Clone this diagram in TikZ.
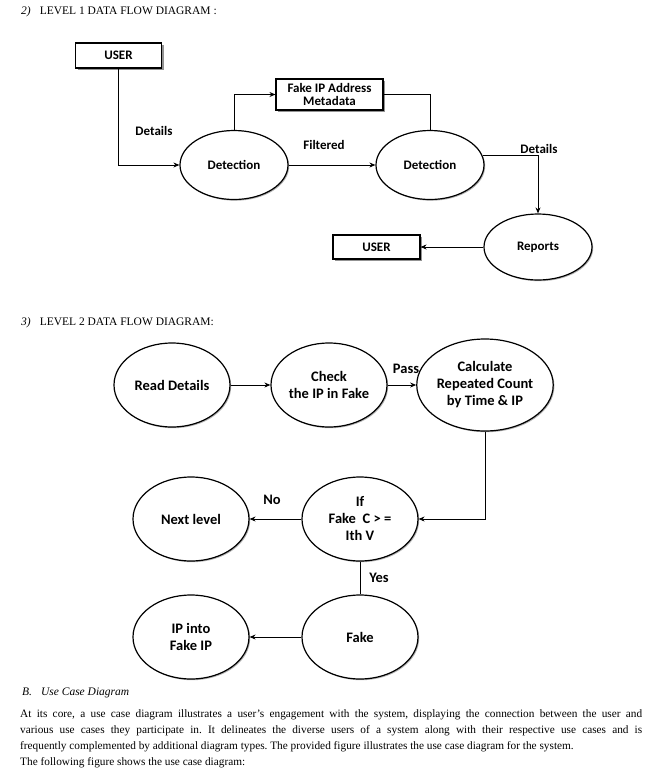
\documentclass[tikz,border=0pt]{standalone}
\usepackage{fontspec}
\setmainfont{Liberation Serif}
\newfontfamily\dfdfont{Carlito}
\usetikzlibrary{shapes,arrows,arrows.meta,positioning,shadows}

\begin{document}
\frenchspacing
\begin{tikzpicture}[x=1pt, y=-1pt, >={Stealth[length=6pt,width=5pt]}]
    \tikzstyle{store} = [rectangle, draw=black, line width=1.1pt, fill=white, inner sep=0pt, align=center, drop shadow={shadow xshift=2pt, shadow yshift=-2pt, fill=black!60, opacity=0.7}, font=\dfdfont\bfseries\fontsize{13}{13.5}\selectfont]
    \tikzstyle{procA} = [ellipse, draw=black, line width=1.2pt, fill=white, inner sep=0pt, align=center, minimum width=108pt, minimum height=69pt, drop shadow={shadow xshift=1.2pt, shadow yshift=-1.2pt, fill=black!50, opacity=0.6}, font=\dfdfont\bfseries\fontsize{13}{14}\selectfont]
    \tikzstyle{procB} = [procA, minimum width=116pt, minimum height=84pt, font=\dfdfont\bfseries\fontsize{14.5}{17}\selectfont]
    \tikzstyle{lblA} = [font=\dfdfont\bfseries\fontsize{13}{14}\selectfont, inner sep=0pt]
    \tikzstyle{lblB} = [font=\dfdfont\bfseries\fontsize{14.5}{17}\selectfont, inner sep=0pt]
    \tikzstyle{heading} = [anchor=west, inner sep=0pt, font=\fontsize{11.5}{13}\selectfont]
    \tikzstyle{arrow} = [line width=0.9pt, ->]
    \tikzstyle{line} = [line width=0.9pt]

    \path[fill=white, use as bounding box] (0,0) rectangle (656,780);

    % level 1
    \node[heading] (titleA) at (21,12) {\textit{2)}\hspace{9pt}LEVEL 1 DATA FLOW DIAGRAM :};

    \node[store, minimum width=86pt, minimum height=25pt] (userA) at (118.5,55.5) {USER};
    \node[store, minimum width=107pt, minimum height=31pt] (meta) at (329.5,94.5) {Fake IP Address\\Metadata};
    \node[procA] (detA) at (234,165) {Detection};
    \node[procA] (detB) at (430,165) {Detection};
    \node[procA, minimum height=66pt] (reports) at (538,247) {Reports};
    \node[store, minimum width=87pt, minimum height=24pt] (userB) at (376.5,247) {USER};

    \node[lblA] (lblDetailsA) at (154,131) {Details};
    \node[lblA] (lblFiltered) at (324,145) {Filtered};
    \node[lblA] (lblDetailsB) at (539,149) {Details};

    \draw[arrow] (userA.south) |- (detA.west);
    \draw[arrow] (detA.north) |- (meta.west);
    \draw[line] (meta.east) -| (detB.north);
    \draw[arrow] (detA.east) -- (detB.west);
    \draw[arrow] (detB.10) -| (reports.north);
    \draw[arrow] (reports.west) -- (userB.east);

    % level 2
    \node[heading] (titleB) at (21,323) {\textit{3)}\hspace{9pt}LEVEL 2 DATA FLOW DIAGRAM:};

    \node[procB] (read) at (172,385) {Read Details};
    \node[procB] (check) at (329,385) {Check\\the IP in Fake};
    \node[procB, minimum width=114pt, minimum height=92pt] (calc) at (485,385) {Calculate\\Repeated Count\\by Time \& IP};
    \node[procB] (cond) at (360,519) {If\\Fake\ \ C > =\\Ith V};
    \node[procB] (next) at (191,519) {Next level};
    \node[procB] (fake) at (360,637) {Fake};
    \node[procB] (ipfake) at (191,637) {IP into\\Fake IP};

    \node[lblB] (lblPass) at (406,369) {Pass};
    \node[lblB] (lblNo) at (272,500) {No};
    \node[lblB] (lblYes) at (379,578) {Yes};

    \draw[arrow] (read) -- (check);
    \draw[arrow] (check) -- (calc);
    \draw[arrow] (calc.south) |- (cond.east);
    \draw[arrow] (cond) -- (next);
    \draw[line] (cond) -- (fake);
    \draw[arrow] (fake) -- (ipfake);

    % use case text
    \node[heading] (headUse) at (22,693) {\textit{B.\hspace{9pt}Use Case Diagram}};
    \node[anchor=north west, inner sep=0pt, text width=622pt, align=justify, font=\fontsize{11.3}{16}\selectfont] (para) at (20,709) {At its core, a use case diagram illustrates a user's engagement with the system, displaying the connection between the user and\linebreak various use cases they participate in. It delineates the diverse users of a system along with their respective use cases and is\linebreak frequently complemented by additional diagram types. The provided figure illustrates the use case diagram for the system.\\The following figure shows the use case diagram:};
\end{tikzpicture}
\end{document}
